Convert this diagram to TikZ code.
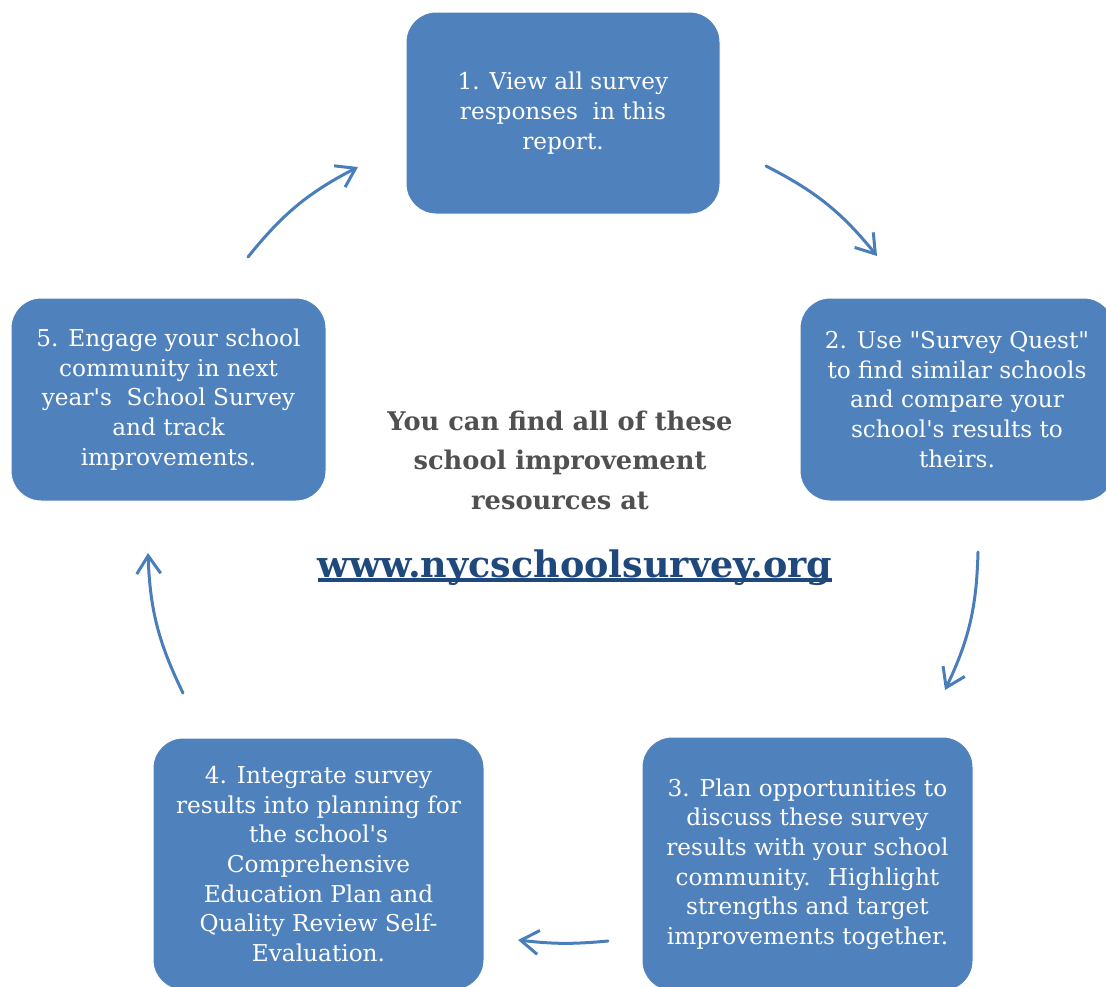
\documentclass[tikz,border=0pt]{standalone}
\usepackage{fontspec}
\setmainfont{DejaVu Serif}[Ligatures=TeXOff]
\usetikzlibrary{arrows.meta, calc}

\definecolor{stepblue}{HTML}{4F81BD}
\definecolor{arrowblue}{HTML}{4A7EBB}
\definecolor{infogray}{HTML}{505050}
\definecolor{linknavy}{HTML}{1F497D}

% thick underline for the web address
\newcommand{\linkline}[1]{\setbox0\hbox{#1}\rlap{\rule[-5pt]{\wd0}{4pt}}\box0}

\begin{document}
\begin{tikzpicture}[x=1pt, y=1pt,
	stepbox/.style={draw=white, line width=1pt, fill=stepblue, rounded corners=30pt,
		text=white, align=center, inner sep=0pt,
		font=\fontsize{23.2}{29.6}\selectfont},
	cyclearrow/.style={arrowblue, line width=3pt, line cap=round,
		-{Straight Barb[length=18pt, width=24pt, line width=3pt]}}]

	\useasboundingbox (0,0) rectangle (1106,-986);

	% the five steps
	\node[stepbox, minimum width=314pt, minimum height=202pt] (step1) at (563,-113)
		{1. View all survey\\responses~ in this\\report.};
	\node[stepbox, minimum width=314pt, minimum height=203pt] (step2) at (957,-399.5)
		{2. Use "Survey Quest"\\to find similar schools\\and compare your\\school's results to\\theirs.};
	\node[stepbox, minimum width=331pt, minimum height=254pt] (step3) at (807.5,-864)
		{3. Plan opportunities to\\discuss these survey\\results with your school\\community.~ Highlight\\strengths and target\\improvements together.};
	\node[stepbox, minimum width=331pt, minimum height=252pt] (step4) at (318.5,-864)
		{4. Integrate survey\\results into planning for\\the school's\\Comprehensive\\Education Plan and\\Quality Review Self-\\Evaluation.};
	\node[stepbox, minimum width=315pt, minimum height=203pt] (step5) at (168.5,-399.5)
		{5. Engage your school\\community in next\\year's~ School Survey\\and track\\improvements.};

	% centre text
	\node[align=center, text=infogray, font=\bfseries\fontsize{25.7}{39.5}\selectfont] (info) at (560,-460)
		{You can find all of these\\school improvement\\resources at};
	\node[anchor=base, text=linknavy, font=\bfseries\fontsize{36.5}{40}\selectfont] (link) at (575,-577)
		{\linkline{www.nycschoolsurvey.org}};

	% arrows round the cycle
	\coordinate (s1) at (248,-257);
	\coordinate (e1) at (358,-167);
	\coordinate (s2) at (766,-166);
	\coordinate (e2) at (877,-256);
	\coordinate (s3) at (978,-552);
	\coordinate (e3) at (945,-690);
	\coordinate (s4) at (608,-941);
	\coordinate (e4) at (518,-940);
	\coordinate (s5) at (183,-693);
	\coordinate (e5) at (148,-553);

	\draw[cyclearrow] (s1) to[bend left=12] (e1);
	\draw[cyclearrow] (s2) to[bend left=12] (e2);
	\draw[cyclearrow] (s3) to[bend left=12] (e3);
	\draw[cyclearrow] (s4) to[bend left=6] (e4);
	\draw[cyclearrow] (s5) to[bend left=12] (e5);

\end{tikzpicture}
\end{document}
